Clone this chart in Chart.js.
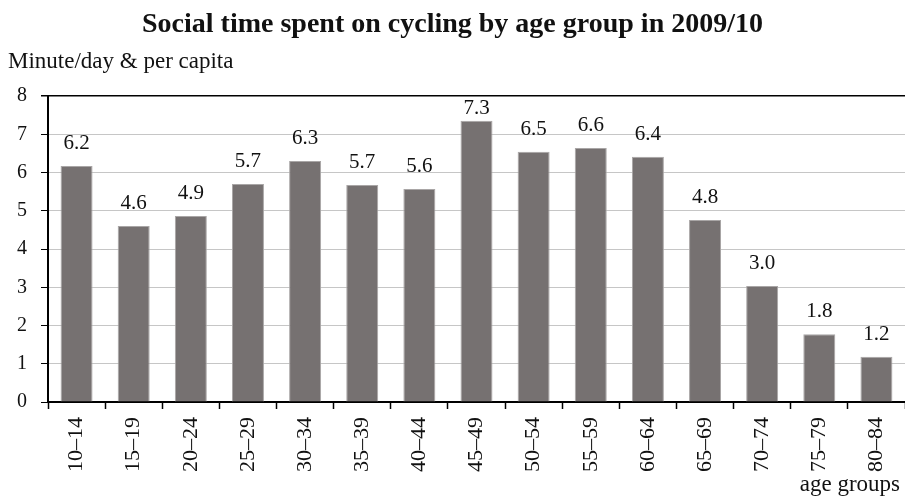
<!DOCTYPE html>
<html>
<head>
<meta charset="utf-8">
<script src="https://cdn.jsdelivr.net/npm/chart.js@4/dist/chart.umd.min.js"></script>
<style>
  html, body { margin: 0; padding: 0; background: #fff; }
  #wrap { width: 905px; height: 497px; }
</style>
</head>
<body>
<div id="wrap"><canvas id="chart" width="905" height="497"></canvas></div>
<script>
const ageGroups = ['10–14', '15–19', '20–24', '25–29', '30–34', '35–39', '40–44', '45–49',
  '50–54', '55–59', '60–64', '65–69', '70–74', '75–79', '80–84']
const cyclingMinutes = [6.17, 4.6, 4.86, 5.7, 6.3, 5.67, 5.57, 7.35, 6.54, 6.64, 6.41, 4.76, 3.03, 1.77, 1.18]
const yMin = 0
const yMax = 8

const titleText = 'Social time spent on cycling by age group in 2009/10'
const unitText = 'Minute/day & per capita'
const xAxisText = 'age groups'

const serif = '"Liberation Serif", "DejaVu Serif", serif'

// draws title, unit caption, value labels and the x axis caption
const annotations = {
  id: 'annotations',
  afterDatasetsDraw(chart) {
    const ctx = chart.ctx
    ctx.save()
    ctx.fillStyle = '#111'

    ctx.font = 'bold 28px ' + serif
    ctx.textAlign = 'center'
    ctx.textBaseline = 'alphabetic'
    ctx.fillText(titleText, chart.width / 2, 32)

    ctx.font = '23px ' + serif
    ctx.textAlign = 'left'
    ctx.fillText(unitText, 8, 68)

    const meta = chart.getDatasetMeta(0)
    ctx.font = '21px ' + serif
    ctx.textAlign = 'center'
    meta.data.forEach((bar, i) => {
      // keep labels inside the plot, below the top border
      const y = Math.max(bar.y - 17, chart.chartArea.top + 18)
      ctx.fillText(cyclingMinutes[i].toFixed(1), bar.x, y)
    })

    ctx.font = '23px ' + serif
    ctx.textAlign = 'right'
    ctx.fillText(xAxisText, 900, 491)
    ctx.restore()
  }
}

new Chart(document.getElementById('chart'), {
  type: 'bar',
  data: {
    labels: ageGroups,
    datasets: [{
      data: cyclingMinutes,
      backgroundColor: '#767171',
      borderColor: '#a9a6a6',
      borderWidth: 1,
      categoryPercentage: 1,
      barPercentage: 0.56
    }]
  },
  options: {
    responsive: false,
    animation: false,
    devicePixelRatio: 1,
    layout: { padding: { top: 96, right: -2, left: 0, bottom: 0 } },
    plugins: {
      legend: { display: false },
      title: { display: false },
      tooltip: { enabled: false }
    },
    scales: {
      x: {
        afterFit(scale) {
          scale.height = 95
          scale.paddingLeft = 0
          scale.paddingRight = 0
        },
        border: { color: '#000', width: 2 },
        grid: {
          display: true,
          drawOnChartArea: false,
          drawTicks: true,
          tickLength: 7,
          tickColor: '#000',
          tickWidth: 1.5
        },
        ticks: {
          minRotation: 90,
          maxRotation: 90,
          padding: 8,
          color: '#111',
          font: { family: serif, size: 22 }
        }
      },
      y: {
        min: yMin,
        max: yMax,
        afterFit(scale) { scale.width = 48 },
        border: { color: '#000', width: 2 },
        grid: {
          color: ctx => ctx.tick && ctx.tick.value === yMax ? '#000' : '#c6c6c6',
          lineWidth: ctx => ctx.tick && ctx.tick.value === yMax ? 1.5 : 1,
          tickLength: 7,
          tickColor: '#000'
        },
        ticks: {
          stepSize: 1,
          padding: 14,
          color: '#111',
          font: { family: serif, size: 20 }
        }
      }
    }
  },
  plugins: [annotations]
})
</script>
</body>
</html>
